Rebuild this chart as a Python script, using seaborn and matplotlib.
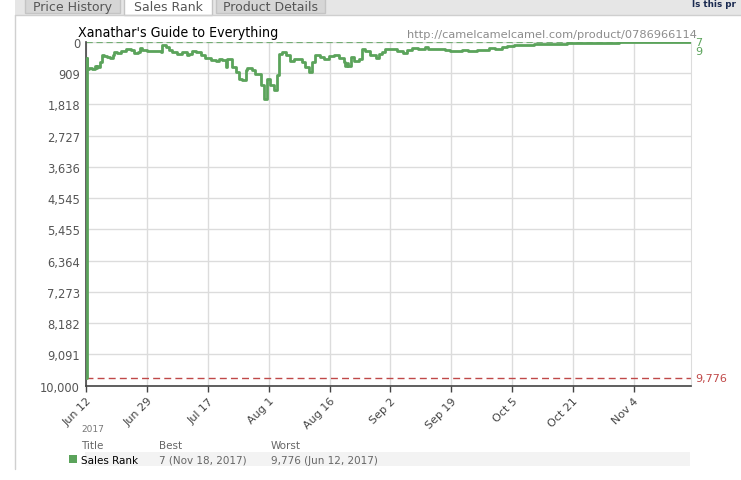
import numpy as np
import pandas as pd
import matplotlib.pyplot as plt
import matplotlib.patches as mpatches
import seaborn as sns

# sales rank, days counted from Jun 12 2017
days = [0, 0.1, 0.27, 0.7, 1.6, 2.2, 2.6, 2.9, 3.2, 3.6, 4.3, 4.7, 5.6, 6.3, 7.0, 7.4,
        8.3, 9.2, 10.5, 11.9, 12.7, 13.7, 14.4, 15.0, 16.3, 19.9, 20.3, 21.2, 22.1, 23.0,
        24.4, 25.7, 27.0, 27.5, 28.4, 29.3, 30.6, 31.9, 33.3, 34.6, 35.5, 36.4, 37.3,
        37.8, 39.1, 40.0, 40.9, 41.8, 42.7, 43.1, 44.4, 45.3, 46.7, 47.6, 48.5, 49.3,
        50.2, 51.1, 51.6, 52.5, 53.4, 54.7, 55.6, 57.8, 58.7, 59.6, 60.5, 61.4, 62.7,
        63.6, 64.9, 66.3, 67.6, 69.0, 69.4, 69.8, 70.2, 70.8, 71.6, 73.0, 73.9, 74.8,
        76.1, 77.5, 78.3, 79.2, 80.1, 83.3, 85.0, 85.9, 87.3, 89.0, 90.8, 91.7, 96.2,
        97.5, 100.7, 102.4, 104.7, 107.8, 109.6, 111.4, 112.7, 114.5, 117.2, 119.9,
        124.3, 128.8, 137.5, 142.8, 148.0, 152.0, 159.0, 160.0, 162.0]
ranks = [9776, 474, 785, 756, 802, 715, 760, 700, 750, 590, 395, 416, 445, 465, 395, 300,
         320, 280, 203, 250, 320, 300, 183, 250, 280, 300, 105, 154, 250, 300,
         350, 300, 395, 350, 270, 300, 395, 474, 540, 561, 494, 540, 735,
         517, 735, 880, 1075, 1105, 830, 765, 830, 930, 1267, 1657, 1075, 1267,
         1413, 977, 349, 300, 395, 561, 494, 590, 735, 880, 590, 395, 445,
         494, 424, 395, 465, 600, 720, 610, 700, 445, 561, 494, 203, 270,
         395, 465, 349, 300, 203, 270, 320, 233, 174, 203, 154, 203, 233,
         270, 233, 270, 233, 174, 203, 154, 134, 87, 105, 58,
         76, 29, 25, 17, 20, 14, 7, 9, 9]

tick_labels = ['Jun 12', 'Jun 29', 'Jul 17', 'Aug 1', 'Aug 16', 'Sep 2',
               'Sep 19', 'Oct 5', 'Oct 21', 'Nov 4']
rank_ticks = [0, 909, 1818, 2727, 3636, 4545, 5455, 6364, 7273, 8182, 9091, 10000]
best_rank, best_date = 7, 'Nov 18, 2017'
worst_rank, worst_date = 9776, 'Jun 12, 2017'
current_rank = 9
title = "Xanathar's Guide to Everything"
url = 'http://camelcamelcamel.com/product/0786966114'

green = '#5ba35b'
red = '#c04848'

df = pd.DataFrame({'day': days, 'rank': ranks})

sns.set_style('white')
plt.rcParams['font.family'] = ['DejaVu Sans']
fig = plt.figure(figsize=(7.41, 4.81), dpi=100)

# page chrome drawn in pixel coords (top-left origin)
bg = fig.add_axes([0, 0, 1, 1], zorder=0)
bg.set_xlim(0, 741)
bg.set_ylim(481, 0)
bg.axis('off')
bg.add_patch(mpatches.Rectangle((15, 0), 726, 16, color='#e6e6e6', lw=0))
bg.plot([15, 15], [16, 470], color='#d0d0d0', lw=1)
bg.plot([15, 741], [16, 16], color='#cfcfcf', lw=1)
for x0, w, lab, on in [(25, 95, 'Price History', False), (124, 88, 'Sales Rank', True),
                       (216, 109, 'Product Details', False)]:
    bg.add_patch(mpatches.Rectangle((x0, -5), w, 21 if on else 19,
                                    facecolor='white' if on else '#d6d6d6',
                                    edgecolor='#c4c4c4', lw=1))
    bg.text(x0 + w / 2, 11, lab, ha='center', va='baseline', fontsize=9, color='#555555')
bg.text(692, 7, 'Is this pr', fontsize=6.3, fontweight='bold', color='#1a2a50',
        va='baseline')

bg.text(78, 37.5, title, fontsize=10.2, color='black', fontstretch='condensed',
        va='baseline')
bg.text(697, 37.5, url, fontsize=8.2, color='#8c8c8c', ha='right', va='baseline')
bg.text(81, 430, '2017', fontsize=6.5, color='#777777', va='center')
bg.add_patch(mpatches.Rectangle((85, 453), 605, 14, color='#f3f3f3', lw=0))
bg.add_patch(mpatches.Rectangle((69, 456), 8, 8, color=green, lw=0))
for x0, t in [(81, 'Title'), (159, 'Best'), (271, 'Worst')]:
    bg.text(x0, 446, t, fontsize=7.5, color='#666666', va='center')
bg.text(81, 461, 'Sales Rank', fontsize=7.5, color='black', va='center')
bg.text(159, 461, f'{best_rank} ({best_date})', fontsize=7.5, color='#666666', va='center')
bg.text(271, 461, f'{worst_rank:,} ({worst_date})', fontsize=7.5, color='#666666', va='center')

ax = fig.add_axes([85.7 / 741, 1 - 386.7 / 481, 605 / 741, 344 / 481], zorder=1)
ax.set_facecolor('none')
sns.lineplot(data=df, x='day', y='rank', ax=ax, color=green, lw=2.0,
             drawstyle='steps-post', estimator=None, sort=False, zorder=3)
ax.axhline(best_rank, color=green, lw=0.9, ls=(0, (5, 3)), alpha=0.8)
ax.axhline(worst_rank, color=red, lw=1.0, ls=(0, (5, 3)))

ax.set_xlim(-0.2, 162)
ax.set_ylim(10000, 0)
ax.set_xticks(np.arange(len(tick_labels)) * 16.3)
ax.set_xticklabels(tick_labels, rotation=45, ha='right', rotation_mode='anchor',
                   fontsize=8, color='#444444')
ax.set_yticks(rank_ticks)
ax.set_yticklabels([f'{v:,}' for v in rank_ticks], fontsize=8.3, color='#555555')
ax.tick_params(axis='y', length=0, pad=4)
ax.tick_params(axis='x', length=4, width=1, color='#444444', pad=3, bottom=True)
ax.grid(True, color='#dcdcdc', lw=1)
ax.set_xlabel('')
ax.set_ylabel('')
ax.spines['top'].set_visible(False)
ax.spines['right'].set_color('#dcdcdc')
ax.spines['left'].set_color('#444444')
ax.spines['bottom'].set_color('#444444')
ax.spines['left'].set_linewidth(1.2)
ax.spines['bottom'].set_linewidth(1.2)

ax.text(1.008, best_rank, str(best_rank), transform=ax.get_yaxis_transform(),
        color=green, fontsize=8, va='center')
ax.text(1.008, 260, str(current_rank), transform=ax.get_yaxis_transform(),
        color=green, fontsize=8, va='center')
ax.text(1.008, worst_rank, f'{worst_rank:,}', transform=ax.get_yaxis_transform(),
        color=red, fontsize=8, va='center')

fig.savefig('out.png', dpi=100)
